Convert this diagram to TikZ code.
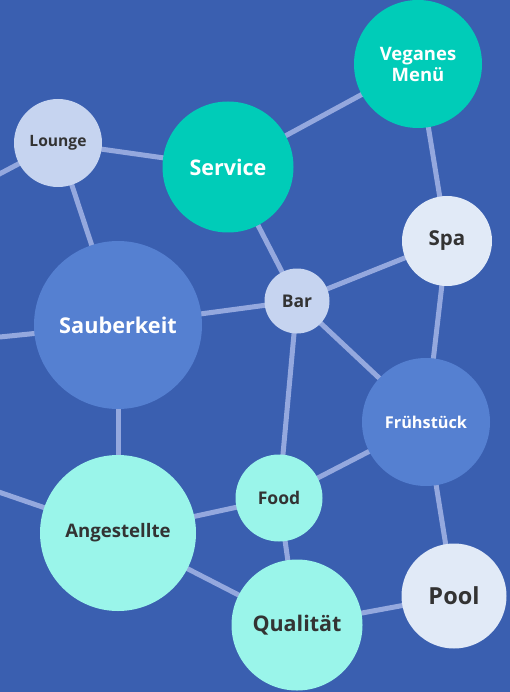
\documentclass[tikz,border=0pt]{standalone}
\usepackage{fontspec}
\setmainfont{Open Sans}
\definecolor{bgblue}{HTML}{3A5FB0}
\definecolor{midblue}{HTML}{5580D1}
\definecolor{teal}{HTML}{00CCB8}
\definecolor{aqua}{HTML}{9AF5EA}
\definecolor{paleblue}{HTML}{C6D4F0}
\definecolor{whiteblue}{HTML}{E1EAF7}
\definecolor{edgecol}{HTML}{94A8DE}
\definecolor{darktext}{HTML}{333333}
\tikzset{
  bubble/.style={circle, inner sep=0pt, font=\bfseries, align=center},
  darkbubble/.style={bubble, text=darktext},
  lightbubble/.style={bubble, text=white},
  link/.style={draw=edgecol, line width=5pt}
}
\begin{document}
\begin{tikzpicture}[x=1pt, y=-1pt]
\useasboundingbox (0,0) rectangle (510,692);
\fill[bgblue] (0,0) rectangle (510,692);
\begin{scope}
\clip (0,0) rectangle (510,692);
\coordinate (cLounge) at (58,143);
\coordinate (cService) at (228,167);
\coordinate (cVegan) at (418,64);
\coordinate (cSpa) at (447,241);
\coordinate (cBar) at (297,301);
\coordinate (cSauber) at (118,325);
\coordinate (cAngest) at (118,533);
\coordinate (cFood) at (279,498);
\coordinate (cFrueh) at (426,422);
\coordinate (cPool) at (454,596);
\coordinate (cQual) at (297,625);
\coordinate (offA) at (-10,179);
\coordinate (offB) at (-10,338);
\coordinate (offC) at (-10,489);
% edges
\draw[link] (cLounge) -- (offA);
\draw[link] (cLounge) -- (cService);
\draw[link] (cLounge) -- (cSauber);
\draw[link] (cSauber) -- (offB);
\draw[link] (cSauber) -- (cBar);
\draw[link] (cSauber) -- (cAngest);
\draw[link] (cService) -- (cVegan);
\draw[link] (cService) -- (cBar);
\draw[link] (cVegan) -- (cSpa);
\draw[link] (cSpa) -- (cBar);
\draw[link] (cSpa) -- (cFrueh);
\draw[link] (cBar) -- (cFrueh);
\draw[link] (cBar) -- (cFood);
\draw[link] (cFrueh) -- (cFood);
\draw[link] (cFrueh) -- (cPool);
\draw[link] (cAngest) -- (offC);
\draw[link] (cAngest) -- (cFood);
\draw[link] (cAngest) -- (cQual);
\draw[link] (cFood) -- (cQual);
\draw[link] (cQual) -- (cPool);
% bubbles
\node[darkbubble, fill=paleblue, minimum size=88pt, font=\bfseries\fontsize{15.6}{18}\selectfont] (lounge) at (cLounge) {Lounge};
\node[lightbubble, fill=teal, minimum size=131pt, font=\bfseries\fontsize{21.5}{25}\selectfont] (service) at (cService) {Service};
\node[lightbubble, fill=teal, minimum size=128pt, font=\bfseries\fontsize{18.5}{21}\selectfont] (vegan) at (cVegan) {Veganes\\Menü};
\node[darkbubble, fill=whiteblue, minimum size=90pt, font=\bfseries\fontsize{20.5}{24}\selectfont] (spa) at (cSpa) {Spa};
\node[darkbubble, fill=paleblue, minimum size=65pt, font=\bfseries\fontsize{17.5}{20}\selectfont] (bar) at (cBar) {Bar};
\node[lightbubble, fill=midblue, minimum size=168pt, font=\bfseries\fontsize{21.7}{25}\selectfont] (sauber) at (cSauber) {Sauberkeit};
\node[darkbubble, fill=aqua, minimum size=156pt, font=\bfseries\fontsize{18.6}{22}\selectfont] (angest) at (cAngest) {Angestellte};
\node[darkbubble, fill=aqua, minimum size=87pt, font=\bfseries\fontsize{17.5}{20}\selectfont] (food) at (cFood) {Food};
\node[lightbubble, fill=midblue, minimum size=128pt, font=\bfseries\fontsize{16.3}{19}\selectfont] (frueh) at (cFrueh) {Frühstück};
\node[darkbubble, fill=whiteblue, minimum size=105pt, font=\bfseries\fontsize{23.5}{27}\selectfont] (pool) at (cPool) {Pool};
\node[darkbubble, fill=aqua, minimum size=131pt, font=\bfseries\fontsize{21.5}{25}\selectfont] (qual) at (cQual) {Qualität};
\end{scope}
\end{tikzpicture}
\end{document}
